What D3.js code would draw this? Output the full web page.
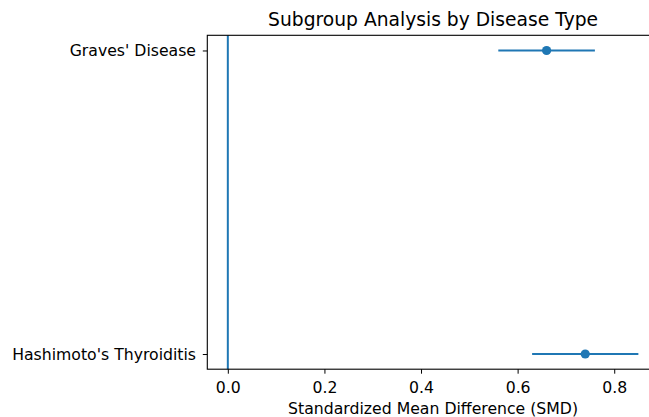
<!DOCTYPE html>
<html><head><meta charset="utf-8">
<script src="https://cdn.jsdelivr.net/npm/d3@7"></script>
<style>
html,body{margin:0;padding:0;background:#fff;}
svg{display:block;font-family:"DejaVu Sans",sans-serif;}
</style></head>
<body>
<svg id="chart" width="649" height="417"></svg>
<script>
const categories = ["Graves' Disease", "Hashimoto's Thyroiditis"];
const smd = [0.66, 0.74];
const ciLower = [0.56, 0.63];
const ciUpper = [0.76, 0.85];
const xTicks = [0.0, 0.2, 0.4, 0.6, 0.8];
const refLine = 0;
const titleText = "Subgroup Analysis by Disease Type";
const xLabelText = "Standardized Mean Difference (SMD)";

(function () {
const color = "#1f77b4";
const svg = d3.select("#chart");
const pL = 207.3, pR = 658.9, pT = 35.3, pB = 369.2;
const fs = "15.7px";

const lo = Math.min(refLine, d3.min(ciLower)), hi = Math.max(refLine, d3.max(ciUpper));
const pad = (hi - lo) * 0.05;
const x = d3.scaleLinear().domain([lo - pad, hi + pad]).range([pL, pR]);
const y = d3.scalePoint().domain(categories).range([pT, pB]).padding(0.05);

const data = categories.map((c, i) => ({c, v: smd[i], l: ciLower[i], u: ciUpper[i]}));

svg.append("line")
  .attr("x1", x(refLine)).attr("x2", x(refLine))
  .attr("y1", pT).attr("y2", pB)
  .attr("stroke", color).attr("stroke-width", 2);

svg.selectAll(".err").data(data).enter().append("line")
  .attr("x1", d => x(d.l)).attr("x2", d => x(d.u))
  .attr("y1", d => y(d.c)).attr("y2", d => y(d.c))
  .attr("stroke", color).attr("stroke-width", 2);

svg.selectAll(".pt").data(data).enter().append("circle")
  .attr("cx", d => x(d.v)).attr("cy", d => y(d.c)).attr("r", 4.6)
  .attr("fill", color);

const xAxis = d3.axisBottom(x).tickValues(xTicks).tickFormat(d3.format(".1f")).tickSize(4.5).tickPadding(7.8);
const gx = svg.append("g").attr("transform", `translate(0,${pB})`).call(xAxis);
const yAxis = d3.axisLeft(y).tickSize(4.5).tickPadding(6.8);
const gy = svg.append("g").attr("transform", `translate(${pL},0)`).call(yAxis);
[gx, gy].forEach(g => {
  g.select(".domain").remove();
  g.selectAll(".tick line").attr("stroke", "#000").attr("stroke-width", 1);
  g.selectAll(".tick text").attr("fill", "#000").style("font-size", fs).style("font-family", "DejaVu Sans");
});

svg.append("rect").attr("x", pL).attr("y", pT).attr("width", pR - pL).attr("height", pB - pT)
  .attr("fill", "none").attr("stroke", "#000").attr("stroke-width", 1.1);

svg.append("text").attr("x", (pL + pR) / 2).attr("y", 25.7).attr("text-anchor", "middle")
  .style("font-size", "18.7px").attr("fill", "#000").text(titleText);
svg.append("text").attr("x", (pL + pR) / 2).attr("y", 414.3).attr("text-anchor", "middle")
  .style("font-size", fs).attr("fill", "#000").text(xLabelText);
})();
</script>
</body></html>
